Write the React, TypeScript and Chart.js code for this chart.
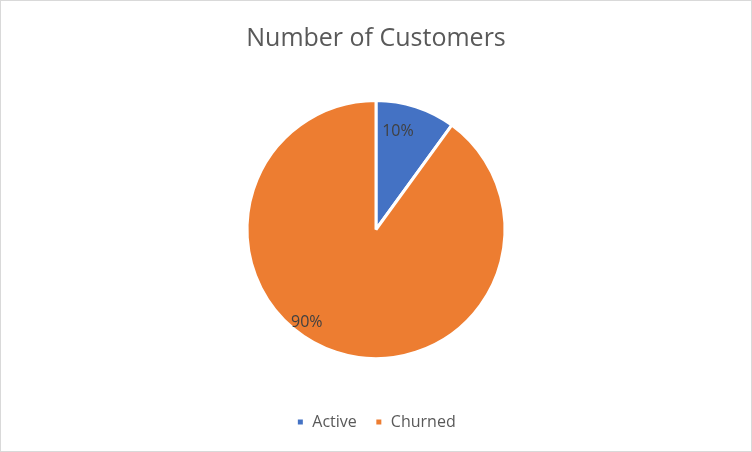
import React, { useEffect, useRef } from "react";
import { Chart, registerables } from "chart.js";

Chart.register(...registerables);

const categories = ["Active", "Churned"];
const values = [10, 90];
const colors = ["#4472C4", "#ED7D31"];
const chartTitle = "Number of Customers";
// label placement (angle from top clockwise in degrees, fraction of radius)
const labelAngles = [12.6, 216.6];
const labelRadii = [0.78, 0.9];

const FONT = "'Open Sans', 'Segoe UI', sans-serif";

const pieLabels = {
  id: "pieLabels",
  afterDatasetsDraw(chart: any) {
    const meta = chart.getDatasetMeta(0);
    const ctx = chart.ctx;
    const total = values.reduce((a, b) => a + b, 0);
    ctx.save();
    ctx.font = `16px ${FONT}`;
    ctx.fillStyle = "#404040";
    ctx.textAlign = "center";
    ctx.textBaseline = "middle";
    meta.data.forEach((arc: any, i: number) => {
      const { x, y, outerRadius } = arc.getProps(["x", "y", "outerRadius"], true);
      const a = (labelAngles[i] * Math.PI) / 180;
      const r = outerRadius * labelRadii[i];
      const px = x + Math.sin(a) * r;
      const py = y - Math.cos(a) * r;
      ctx.fillText(Math.round((values[i] / total) * 100) + "%", px, py);
    });
    ctx.restore();
  },
};

export default function App() {
  const ref = useRef<HTMLCanvasElement>(null);
  useEffect(() => {
    document.body.style.margin = "0";
    const chart = new Chart(ref.current!, {
      type: "pie",
      data: {
        labels: categories,
        datasets: [
          {
            data: values,
            backgroundColor: colors,
            borderColor: "#ffffff",
            borderWidth: 3,
            radius: 129,
          },
        ],
      },
      options: {
        responsive: false,
        animation: false,
        layout: { padding: { top: 0, bottom: 11, left: 0, right: 0 } },
        plugins: {
          title: {
            display: true,
            text: chartTitle,
            color: "#595959",
            font: { family: FONT, size: 25, weight: "normal" },
            padding: { top: 23, bottom: 9 },
          },
          legend: {
            position: "bottom",
            labels: {
              boxWidth: 8,
              boxHeight: 8,
              color: "#595959",
              font: { family: FONT, size: 16 },
              padding: 18,
            },
          },
          tooltip: { enabled: false },
        },
      },
      plugins: [pieLabels],
    });
    return () => chart.destroy();
  }, []);
  return (
    <div
      style={{
        width: 752,
        height: 452,
        boxSizing: "border-box",
        border: "1px solid #d9d9d9",
        background: "#fff",
      }}
    >
      <canvas ref={ref} width={750} height={450} style={{ display: "block" }} />
    </div>
  );
}
